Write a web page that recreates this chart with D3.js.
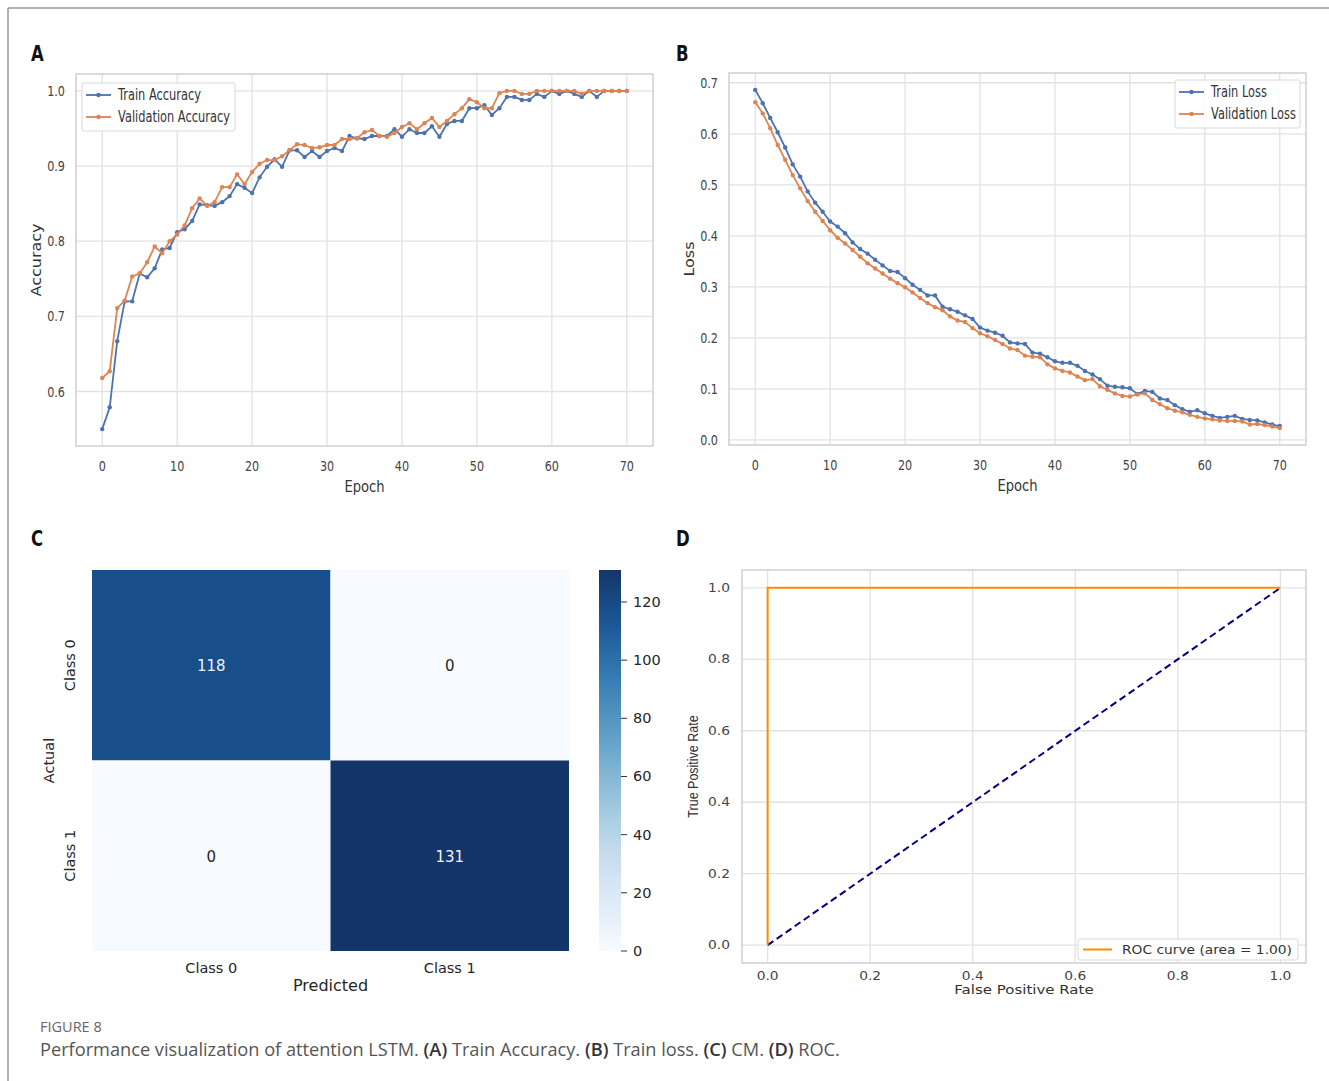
<!DOCTYPE html>
<html>
<head>
<meta charset="utf-8">
<script src="https://cdn.jsdelivr.net/npm/d3@7"></script>
<style>
body { margin: 0; background: #fff; }
svg { display: block; }
</style>
</head>
<body>
<div id="chart"></div>
<script>
var epochs = d3.range(0, 71);

var trainAcc = [0.550,0.579,0.667,0.720,0.720,0.757,0.752,0.764,0.789,0.791,
	0.812,0.816,0.827,0.849,0.848,0.847,0.852,0.860,0.876,0.871,
	0.864,0.885,0.899,0.909,0.899,0.921,0.921,0.912,0.920,0.912,
	0.920,0.924,0.920,0.940,0.937,0.936,0.940,0.940,0.940,0.949,
	0.939,0.949,0.944,0.944,0.953,0.939,0.956,0.960,0.960,0.977,
	0.977,0.981,0.968,0.977,0.992,0.992,0.988,0.988,0.996,0.992,
	1.000,0.996,1.000,0.996,0.992,1.000,0.992,1.000,1.000,1.000,1.000];

var valAcc = [0.618,0.627,0.711,0.721,0.753,0.757,0.772,0.793,0.784,0.800,
	0.809,0.821,0.844,0.857,0.847,0.852,0.872,0.872,0.889,0.876,
	0.892,0.903,0.908,0.908,0.913,0.921,0.929,0.928,0.924,0.925,
	0.928,0.928,0.936,0.936,0.937,0.945,0.948,0.940,0.939,0.944,
	0.952,0.957,0.949,0.957,0.964,0.952,0.960,0.969,0.977,0.989,
	0.985,0.977,0.977,0.997,1.000,1.000,0.996,0.996,1.000,1.000,
	1.000,1.000,1.000,1.000,0.996,1.000,1.000,1.000,1.000,1.000,1.000];

var trainLoss = [0.686,0.660,0.631,0.603,0.573,0.540,0.516,0.487,0.465,0.447,
	0.428,0.418,0.405,0.387,0.374,0.365,0.353,0.342,0.331,0.329,
	0.317,0.304,0.294,0.283,0.283,0.261,0.256,0.251,0.244,0.237,
	0.220,0.214,0.210,0.204,0.191,0.189,0.188,0.171,0.169,0.162,
	0.154,0.151,0.151,0.145,0.135,0.128,0.119,0.106,0.104,0.103,
	0.101,0.090,0.096,0.094,0.081,0.078,0.068,0.060,0.055,0.058,
	0.052,0.047,0.043,0.045,0.047,0.041,0.039,0.038,0.034,0.030,0.027];

var valLoss = [0.662,0.640,0.611,0.578,0.549,0.519,0.493,0.468,0.447,0.429,
	0.411,0.396,0.385,0.372,0.359,0.346,0.336,0.326,0.316,0.307,
	0.299,0.289,0.278,0.268,0.260,0.254,0.242,0.234,0.231,0.219,
	0.209,0.203,0.196,0.188,0.179,0.176,0.165,0.163,0.162,0.148,
	0.140,0.135,0.132,0.124,0.117,0.119,0.105,0.098,0.091,0.086,
	0.085,0.089,0.091,0.078,0.070,0.062,0.057,0.054,0.049,0.045,
	0.042,0.040,0.038,0.037,0.037,0.036,0.030,0.031,0.029,0.026,0.023];

var epochTicks = [0, 10, 20, 30, 40, 50, 60, 70];
var accTicks = [0.6, 0.7, 0.8, 0.9, 1.0];
var lossTicks = [0.0, 0.1, 0.2, 0.3, 0.4, 0.5, 0.6, 0.7];

var cmClasses = ["Class 0", "Class 1"];
var cmValues = [[118, 0], [0, 131]];
var cbarTicks = [0, 20, 40, 60, 80, 100, 120];

var rocFpr = [0, 0, 1];
var rocTpr = [0, 1, 1];
var rateTicks = [0.0, 0.2, 0.4, 0.6, 0.8, 1.0];
var rocArea = 1.00;

var blue = "#4c72b0", orange = "#dd8452";
var sans = "'DejaVu Sans', sans-serif";
var gridColor = "#e2e2e2", frameColor = "#d0d0d0", tickColor = "#444";

var svg = d3.select("#chart").append("svg")
	.attr("width", 1329)
	.attr("height", 1081);

// text squeezed/stretched sideways, the figure panels were resized unevenly
function sText(g, x, y, str, size, sx, anchor, rot){
	var tr = "translate(" + x + "," + y + ")" + (rot ? " rotate(-90)" : "");
	tr += rot ? " scale(1," + sx + ")" : " scale(" + sx + ",1)";
	return g.append("text").attr("transform", tr)
		.attr("text-anchor", anchor || "start")
		.attr("font-family", sans).attr("font-size", size)
		.text(str);
}

// outer frame
svg.append("line").attr("x1", 8).attr("x2", 1329).attr("y1", 8).attr("y2", 8)
	.attr("stroke", "#9a9a9a").attr("stroke-width", 1.5);
svg.append("line").attr("x1", 8).attr("x2", 8).attr("y1", 8).attr("y2", 1081)
	.attr("stroke", "#9a9a9a").attr("stroke-width", 1.5);

[["A", 31, 61], ["B", 676, 61], ["C", 31, 546], ["D", 676, 546]].forEach(function(p){
	sText(svg, p[1], p[2], p[0], 22, 0.75).attr("font-weight", "bold").attr("fill", "#111");
});

function padded(vals){
	var e = d3.extent(vals), p = (e[1] - e[0]) * 0.05;
	return [e[0] - p, e[1] + p];
}

function linePanel(opt){
	var g = svg.append("g");
	var x = d3.scaleLinear().domain(padded(epochs)).range([opt.left, opt.right]);
	var y = d3.scaleLinear().domain(padded(opt.series[0].values.concat(opt.series[1].values)))
		.range([opt.bottom, opt.top]);

	g.selectAll(".vg").data(epochTicks).enter().append("line")
		.attr("x1", function(d){ return x(d); }).attr("x2", function(d){ return x(d); })
		.attr("y1", opt.top).attr("y2", opt.bottom)
		.attr("stroke", gridColor).attr("stroke-width", 1.3);
	g.selectAll(".hg").data(opt.yticks).enter().append("line")
		.attr("x1", opt.left).attr("x2", opt.right)
		.attr("y1", function(d){ return y(d); }).attr("y2", function(d){ return y(d); })
		.attr("stroke", gridColor).attr("stroke-width", 1.3);
	g.append("rect")
		.attr("x", opt.left).attr("y", opt.top)
		.attr("width", opt.right - opt.left).attr("height", opt.bottom - opt.top)
		.attr("fill", "none").attr("stroke", frameColor).attr("stroke-width", 1.5);

	epochTicks.forEach(function(d){
		sText(g, x(d), opt.bottom + 25, d, 14, 0.8, "middle").attr("fill", tickColor);
	});
	opt.yticks.forEach(function(d){
		sText(g, opt.left - 11, y(d) + 5, d3.format(".1f")(d), 14, 0.8, "end").attr("fill", tickColor);
	});

	sText(g, (opt.left + opt.right) / 2, opt.bottom + 46, "Epoch", 16, 0.82, "middle").attr("fill", "#333");
	sText(g, opt.left - 35, (opt.top + opt.bottom) / 2, opt.ylabel, 16, 0.85, "middle", true).attr("fill", "#333");

	var line = d3.line()
		.x(function(d, i){ return x(epochs[i]); })
		.y(function(d){ return y(d); });

	opt.series.forEach(function(s){
		g.append("path").datum(s.values)
			.attr("d", line).attr("fill", "none")
			.attr("stroke", s.color).attr("stroke-width", 1.8);
		g.selectAll(null).data(s.values).enter().append("circle")
			.attr("cx", function(d, i){ return x(epochs[i]); })
			.attr("cy", function(d){ return y(d); })
			.attr("r", 2.2).attr("fill", s.color);
	});

	// legend
	var lg = g.append("g").attr("transform", "translate(" + opt.legend[0] + "," + opt.legend[1] + ")");
	lg.append("rect").attr("x", 0).attr("y", 0)
		.attr("width", opt.legend[2]).attr("height", 48).attr("rx", 2)
		.attr("fill", "#fff").attr("fill-opacity", 0.85)
		.attr("stroke", "#d8d8d8").attr("stroke-width", 1);
	opt.series.forEach(function(s, i){
		var yy = 12 + i * 22;
		lg.append("line").attr("x1", 4).attr("x2", 29).attr("y1", yy).attr("y2", yy)
			.attr("stroke", s.color).attr("stroke-width", 1.8);
		lg.append("circle").attr("cx", 16.5).attr("cy", yy).attr("r", 2.2).attr("fill", s.color);
		sText(lg, 36, yy + 5, s.name, 15, 0.76).attr("fill", "#333");
	});
}

linePanel({
	left: 76, right: 653, top: 74, bottom: 446,
	yticks: accTicks, ylabel: "Accuracy",
	series: [
		{ name: "Train Accuracy", values: trainAcc, color: blue },
		{ name: "Validation Accuracy", values: valAcc, color: orange }
	],
	legend: [82, 83, 153]
});

linePanel({
	left: 729, right: 1306, top: 73, bottom: 445,
	yticks: lossTicks, ylabel: "Loss",
	series: [
		{ name: "Train Loss", values: trainLoss, color: blue },
		{ name: "Validation Loss", values: valLoss, color: orange }
	],
	legend: [1175, 80, 125]
});

// C: confusion matrix
(function(){
	var g = svg.append("g");
	var left = 92, right = 569, top = 570, bottom = 951;
	var x = d3.scaleBand().domain(cmClasses).range([left, right]);
	var y = d3.scaleBand().domain(cmClasses).range([top, bottom]);
	var vmax = d3.max(cmValues, function(r){ return d3.max(r); });
	var muted = function(t){
		var c = d3.hsl(d3.interpolateBlues(t));
		c.s *= 1 - 0.22 * t;
		c.l += 0.015 * t;
		return c.formatHex();
	};
	var color = d3.scaleSequential(muted).domain([0, vmax]);
	var cells = [];
	cmValues.forEach(function(row, i){
		row.forEach(function(v, j){ cells.push({ r: cmClasses[i], c: cmClasses[j], v: v }); });
	});
	g.selectAll(".cell").data(cells).enter().append("rect")
		.attr("x", function(d){ return x(d.c); }).attr("y", function(d){ return y(d.r); })
		.attr("width", x.bandwidth()).attr("height", y.bandwidth())
		.attr("fill", function(d){ return color(d.v); });
	cells.forEach(function(d){
		sText(g, x(d.c) + x.bandwidth() / 2, y(d.r) + y.bandwidth() / 2 + 6, d.v, 15, 1, "middle")
			.attr("fill", d.v > vmax / 2 ? "#eef2f8" : "#262626");
	});
	cmClasses.forEach(function(d){
		sText(g, x(d) + x.bandwidth() / 2, 973, d, 14.5, 1, "middle").attr("fill", "#262626");
		sText(g, 75, y(d) + y.bandwidth() / 2, d, 14.5, 0.95, "middle", true).attr("fill", "#262626");
	});
	sText(g, (left + right) / 2, 991, "Predicted", 16, 1, "middle").attr("fill", "#262626");
	sText(g, 54, (top + bottom) / 2, "Actual", 14.5, 1, "middle", true).attr("fill", "#262626");

	// colorbar
	var cbL = 599, cbR = 621;
	var cy = d3.scaleLinear().domain([0, vmax]).range([bottom, top]);
	var defs = svg.append("defs");
	var grad = defs.append("linearGradient").attr("id", "cbar")
		.attr("x1", 0).attr("x2", 0).attr("y1", 1).attr("y2", 0);
	d3.range(0, 1.0001, 0.05).forEach(function(t){
		grad.append("stop").attr("offset", t).attr("stop-color", muted(t));
	});
	g.append("rect").attr("x", cbL).attr("y", top).attr("width", cbR - cbL)
		.attr("height", bottom - top).attr("fill", "url(#cbar)");
	g.selectAll(".cbt").data(cbarTicks).enter().append("line")
		.attr("x1", cbR).attr("x2", cbR + 6)
		.attr("y1", function(d){ return cy(d); }).attr("y2", function(d){ return cy(d); })
		.attr("stroke", "#333").attr("stroke-width", 1);
	cbarTicks.forEach(function(d){
		sText(g, cbR + 12, cy(d) + 5, d, 14.5, 1).attr("fill", "#262626");
	});
})();

// D: ROC
(function(){
	var g = svg.append("g");
	var left = 742, right = 1306, top = 570, bottom = 963;
	var x = d3.scaleLinear().domain([-0.05, 1.05]).range([left, right]);
	var y = d3.scaleLinear().domain([-0.05, 1.05]).range([bottom, top]);
	g.selectAll(".vg").data(rateTicks).enter().append("line")
		.attr("x1", function(d){ return x(d); }).attr("x2", function(d){ return x(d); })
		.attr("y1", top).attr("y2", bottom).attr("stroke", gridColor).attr("stroke-width", 1.3);
	g.selectAll(".hg").data(rateTicks).enter().append("line")
		.attr("x1", left).attr("x2", right)
		.attr("y1", function(d){ return y(d); }).attr("y2", function(d){ return y(d); })
		.attr("stroke", gridColor).attr("stroke-width", 1.3);
	g.append("rect").attr("x", left).attr("y", top)
		.attr("width", right - left).attr("height", bottom - top)
		.attr("fill", "none").attr("stroke", frameColor).attr("stroke-width", 1.5);

	rateTicks.forEach(function(d){
		sText(g, x(d), bottom + 17, d3.format(".1f")(d), 11.5, 1.2, "middle").attr("fill", tickColor);
		sText(g, left - 12, y(d) + 4, d3.format(".1f")(d), 11.5, 1.2, "end").attr("fill", tickColor);
	});
	sText(g, (left + right) / 2, 994, "False Positive Rate", 12.5, 1.2, "middle").attr("fill", "#333");
	sText(g, 698, (top + bottom) / 2, "True Positive Rate", 12.5, 1.2, "middle", true)
		.attr("font-family", "'Liberation Sans', sans-serif").attr("fill", "#333");

	g.append("line").attr("x1", x(0)).attr("y1", y(0)).attr("x2", x(1)).attr("y2", y(1))
		.attr("stroke", "navy").attr("stroke-width", 2).attr("stroke-dasharray", "7,4");
	var line = d3.line().x(function(d){ return x(d[0]); }).y(function(d){ return y(d[1]); });
	g.append("path").datum(d3.zip(rocFpr, rocTpr)).attr("d", line)
		.attr("fill", "none").attr("stroke", "darkorange").attr("stroke-width", 2);

	var lg = g.append("g").attr("transform", "translate(1078,939)");
	lg.append("rect").attr("width", 220).attr("height", 21).attr("rx", 2)
		.attr("fill", "#fff").attr("fill-opacity", 0.85).attr("stroke", "#d8d8d8");
	lg.append("line").attr("x1", 5).attr("x2", 34).attr("y1", 10.5).attr("y2", 10.5)
		.attr("stroke", "darkorange").attr("stroke-width", 2);
	sText(lg, 44, 15, "ROC curve (area = " + rocArea.toFixed(2) + ")", 11.5, 1.2).attr("fill", "#333");
})();

// caption
svg.append("text").attr("x", 40).attr("y", 1032)
	.attr("font-family", "'Open Sans', sans-serif").attr("font-size", 14.5)
	.attr("fill", "#666").text("FIGURE 8");
var cap = svg.append("text").attr("x", 40).attr("y", 1056)
	.attr("font-family", "'Open Sans', sans-serif").attr("font-size", 18.2)
	.attr("fill", "#555");
[["Performance visualization of attention LSTM. ", false], ["(A)", true], [" Train Accuracy. ", false],
 ["(B)", true], [" Train loss. ", false], ["(C)", true], [" CM. ", false], ["(D)", true], [" ROC.", false]]
	.forEach(function(p){
		cap.append("tspan").attr("font-weight", p[1] ? "600" : "normal")
			.attr("fill", p[1] ? "#333" : "#555").text(p[0]);
	});
</script>
</body>
</html>
